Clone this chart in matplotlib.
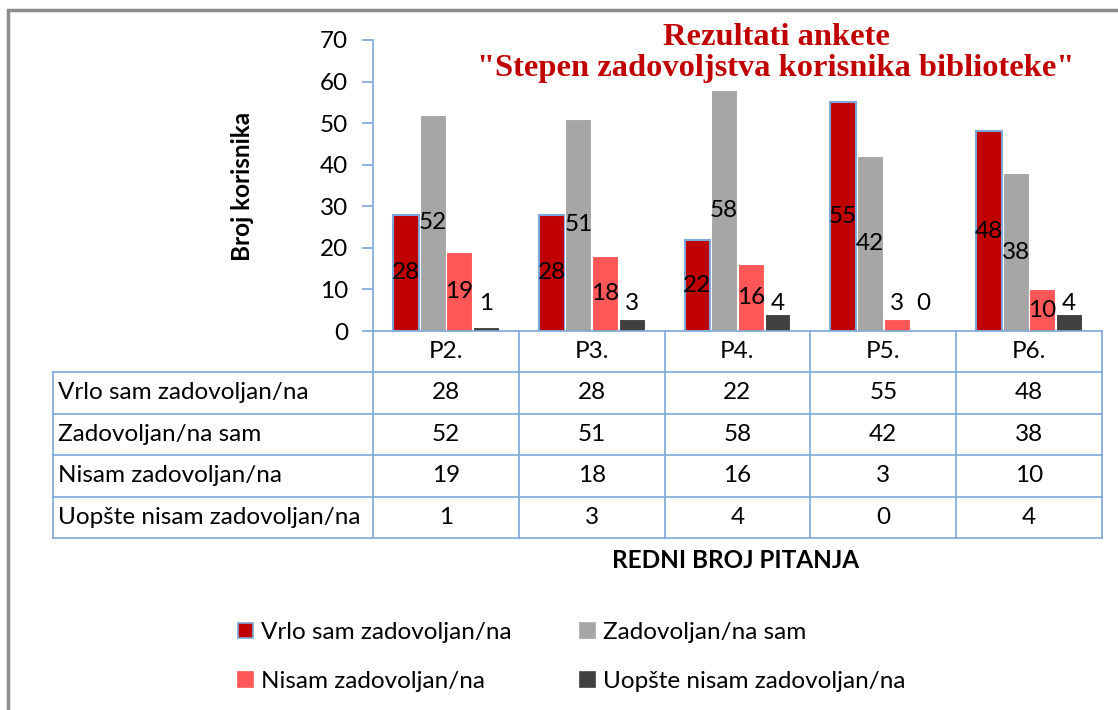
import numpy as np
import matplotlib
matplotlib.use('Agg')
import matplotlib.pyplot as plt
import matplotlib.transforms as mtrans
from matplotlib.lines import Line2D
from matplotlib.patches import Patch, Rectangle

plt.rcParams['font.family'] = ['Lato', 'DejaVu Sans']

# data
pitanja = ['P2.', 'P3.', 'P4.', 'P5.', 'P6.']
serije = ['Vrlo sam zadovoljan/na', 'Zadovoljan/na sam',
          'Nisam zadovoljan/na', 'Uopšte nisam zadovoljan/na']
vrlo = [28, 28, 22, 55, 48]
zadovoljan = [52, 51, 58, 42, 38]
nisam = [19, 18, 16, 3, 10]
uopste = [1, 3, 4, 0, 4]
vrijednosti = [vrlo, zadovoljan, nisam, uopste]

boje = ['#C00000', '#A6A6A6', '#FF5757', '#404040']
plava = '#7DA7D9'

W, H = 1118, 710
fig = plt.figure(figsize=(W / 100, H / 100), dpi=100)


def fx(x):
    return x / W


def fy(y):
    return 1 - y / H


# gray frame (only top and left visible)
fig.patches.append(Rectangle((fx(8), fy(H + 20)), 1.2, fy(10) - fy(H + 20),
                             transform=fig.transFigure, fill=False,
                             edgecolor='#8c8c8c', linewidth=2.5))

ax = fig.add_axes([fx(373), fy(331), fx(1102) - fx(373), fy(40) - fy(331)])
x = np.arange(len(pitanja))
sirina = 0.178
korak = 0.183
fs = 17.5

for i, (ime, v) in enumerate(zip(serije, vrijednosti)):
    pos = x + (i - 1.5) * korak
    ec = plava if i == 0 else 'white'
    lw = 1.5 if i == 0 else 0.8
    ax.bar(pos, v, width=sirina, color=boje[i], edgecolor=ec, linewidth=lw,
           label=ime, zorder=2)
    for p, val in zip(pos, v):
        y = val / 2 if val >= 5 else 6.6
        ax.text(p, y, str(val), ha='center', va='center', fontsize=fs,
                color='black', zorder=3)

ax.set_xlim(-0.5, len(pitanja) - 0.5)
ax.set_ylim(0, 70)
ax.set_yticks(range(0, 71, 10))
ax.set_xticks([])
for s in ['top', 'right', 'bottom']:
    ax.spines[s].set_visible(False)
ax.spines['left'].set_color(plava)
ax.spines['left'].set_linewidth(1.2)
ax.tick_params(axis='y', length=8, width=1.2, color=plava, pad=10,
               labelsize=fs)
ax.patch.set_alpha(0)

fig.text(fx(243), fy(186), 'Broj korisnika', rotation=90, ha='center',
         va='center', fontsize=fs, fontweight='bold')

# data table below the axis
tr = mtrans.blended_transform_factory(ax.transData, fig.transFigure)
redovi = [331, 372, 413.5, 455, 496.5, 538]
lijevo, desno = 53, 1102
ivice = list(x - 0.5) + [len(pitanja) - 0.5]

# horizontal lines
fig.add_artist(Line2D([fx(373), fx(desno)], [fy(redovi[0])] * 2,
                      color=plava, lw=1.2))
for r in redovi[1:]:
    fig.add_artist(Line2D([fx(lijevo), fx(desno)], [fy(r)] * 2,
                          color=plava, lw=1.2))
# vertical lines
for e in ivice:
    fig.add_artist(Line2D([e, e], [fy(redovi[0]), fy(redovi[-1])],
                          color=plava, lw=1.2, transform=tr))
fig.add_artist(Line2D([fx(lijevo)] * 2, [fy(redovi[1]), fy(redovi[-1])],
                      color=plava, lw=1.2))

for xi, p in zip(x, pitanja):
    fig.text(xi, fy((redovi[0] + redovi[1]) / 2), p, transform=tr,
             ha='center', va='center', fontsize=fs)
for k, (ime, v) in enumerate(zip(serije, vrijednosti)):
    yc = fy((redovi[k + 1] + redovi[k + 2]) / 2)
    fig.text(fx(58), yc, ime, ha='left', va='center', fontsize=fs)
    for xi, val in zip(x, v):
        fig.text(xi, yc, str(val), transform=tr, ha='center', va='center',
                 fontsize=fs)

fig.text(fx(736), fy(560), 'REDNI BROJ PITANJA', ha='center', va='center',
         fontsize=fs, fontweight='bold')

# title
fig.text(fx(776), fy(53), 'Rezultati ankete\n"Stepen zadovoljstva korisnika biblioteke"',
         ha='center', va='center', fontsize=23.4, fontweight='bold',
         family='Liberation Serif', color='#C00000', linespacing=1.12)

# legend
rucke = [Patch(facecolor=boje[i], edgecolor=plava if i == 0 else boje[i],
               linewidth=1.2) for i in range(4)]
red = [0, 2, 1, 3]
fig.legend([rucke[i] for i in red], [serije[i] for i in red], ncol=2,
           loc='center', bbox_to_anchor=(fx(572), fy(657)), frameon=False,
           fontsize=fs, handlelength=0.6, handleheight=0.6, handletextpad=0.35,
           columnspacing=2.8, labelspacing=1.15)

fig.savefig('out.png', dpi=100)
